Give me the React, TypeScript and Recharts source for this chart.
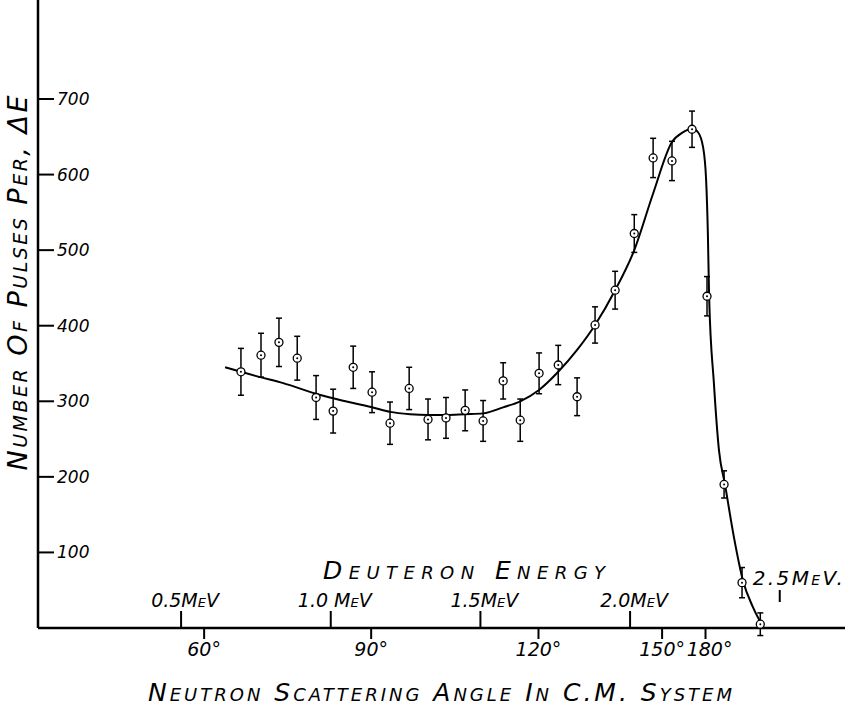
import React from "react";
import { ComposedChart, Line, Scatter, ErrorBar, XAxis, YAxis, Label } from "recharts";

// deuteron energy (MeV) of each measured point, counts and error
const pointEnergy = [
  0.7, 0.767, 0.827, 0.888, 0.951, 1.008, 1.075, 1.138, 1.198, 1.262, 1.325, 1.385, 1.449, 1.509, 1.576,
  1.633, 1.696, 1.76, 1.823, 1.883, 1.95, 2.014, 2.077, 2.14, 2.207, 2.257, 2.314, 2.374, 2.435,
];
const pointCounts = [
  339, 361, 378, 357, 305, 287, 345, 312, 271, 317, 276, 278, 288, 274, 327, 275, 337, 348, 306, 401, 447,
  522, 622, 618, 660, 439, 190, 60, 5,
];
const pointError = [
  31, 29, 32, 29, 29, 29, 28, 27, 28, 28, 27, 27, 27, 27, 24, 28, 27, 26, 25, 24, 25, 25, 26, 26, 24, 26,
  18, 20, 15,
];

// hand drawn fitted curve
const curveEnergy = [
  0.647, 0.7, 0.764, 0.841, 0.951, 1.008, 1.138, 1.198, 1.265, 1.325, 1.385, 1.449, 1.509, 1.576, 1.633,
  1.696, 1.76, 1.823, 1.883, 1.95, 2.014, 2.077, 2.14, 2.177, 2.207, 2.227, 2.244, 2.254, 2.26, 2.264, 2.28,
  2.297, 2.317, 2.347, 2.377, 2.41, 2.447,
];
const curveCounts = [
  345, 339, 332, 324, 310, 304, 292, 286, 283, 282, 282, 283, 284, 292, 300, 315, 339, 368, 401, 447, 500,
  575, 643, 656, 661, 656, 636, 593, 520, 439, 324, 235, 190, 120, 63, 28, 0,
];

const energyTicks = [0.5, 1.0, 1.5, 2.0, 2.5];
const energyLabels = ["0.5MeV", "1.0 MeV", "1.5MeV", "2.0MeV", "2.5MeV."];
const angleTicks = [0.577, 1.135, 1.694, 2.107, 2.252];
const angleLabels = ["60°", "90°", "120°", "150°", "180°"];
const countTicks = [100, 200, 300, 400, 500, 600, 700];

const points = pointEnergy.map((e, i) => ({ e, n: pointCounts[i], err: pointError[i] }));
const curve = curveEnergy.map((e, i) => ({ e, n: curveCounts[i] }));

const font = "'DejaVu Sans', sans-serif";
const textStyle = { fontFamily: font, fontStyle: "italic", fill: "#000" } as const;
const capsStyle = { ...textStyle, fontVariant: "small-caps" } as const;

function XTick({ x, y, payload }: any) {
  const ei = energyTicks.indexOf(payload.value);
  if (ei === energyTicks.length - 1) {
    return (
      <g>
        <line x1={x} y1={y - 38} x2={x} y2={y - 26} stroke="#000" strokeWidth={2} />
        <text x={x - 27} y={y - 43} fontSize={20} textLength={90} lengthAdjust="spacing" style={capsStyle}>
          {energyLabels[ei]}
        </text>
      </g>
    );
  }
  if (ei >= 0) {
    return (
      <g>
        <line x1={x} y1={y - 17} x2={x} y2={y} stroke="#000" strokeWidth={2} />
        <text x={x + 4} y={y - 21} fontSize={19} textAnchor="middle" style={capsStyle}>
          {energyLabels[ei]}
        </text>
      </g>
    );
  }
  const ai = angleTicks.indexOf(payload.value);
  return (
    <g>
      <line x1={x} y1={y} x2={x} y2={y + 11} stroke="#000" strokeWidth={2} />
      <text x={x + (ai === angleTicks.length - 1 ? 4 : 0)} y={y + 28} fontSize={19} textAnchor="middle" style={textStyle}>
        {angleLabels[ai]}
      </text>
    </g>
  );
}

function YTick({ x, y, payload }: any) {
  return (
    <g>
      <line x1={x} y1={y} x2={x + 16} y2={y} stroke="#000" strokeWidth={2} />
      <text x={x + 19} y={y + 6} fontSize={17} style={textStyle}>
        {payload.value}
      </text>
    </g>
  );
}

function PointShape({ cx, cy }: any) {
  return (
    <g>
      <circle cx={cx} cy={cy} r={4} fill="#fff" stroke="#000" strokeWidth={1.3} />
      <circle cx={cx} cy={cy} r={1} fill="#000" />
    </g>
  );
}

function XTitles({ viewBox }: any) {
  const y = viewBox ? viewBox.y : 628;
  return (
    <g>
      <text x={323} y={y - 49} fontSize={25} textLength={282} lengthAdjust="spacing" style={capsStyle}>
        Deuteron Energy
      </text>
      <text x={148} y={y + 73} fontSize={25} textLength={584} lengthAdjust="spacing" style={capsStyle}>
        Neutron Scattering Angle In C.M. System
      </text>
    </g>
  );
}

function YTitle() {
  const cx = 27;
  const cy = 283;
  return (
    <text
      x={cx}
      y={cy}
      fontSize={27}
      textAnchor="middle"
      textLength={375}
      lengthAdjust="spacing"
      transform={`rotate(-90 ${cx} ${cy})`}
      style={capsStyle}
    >
      Number Of Pulses Per, ΔE
    </text>
  );
}

export default function App() {
  return (
    <div style={{ position: "absolute", left: 0, top: 0, background: "#fff" }}>
      <ComposedChart width={845} height={707} margin={{ top: 0, right: 0, left: 37, bottom: 78 }}>
        <XAxis
          type="number"
          dataKey="e"
          domain={[0.022, 2.718]}
          ticks={[...energyTicks, ...angleTicks]}
          interval={0}
          allowDataOverflow
          height={1}
          tickSize={0}
          tickMargin={0}
          tick={<XTick />}
          axisLine={{ stroke: "#000", strokeWidth: 2.5 }}
        >
          <Label content={<XTitles />} />
        </XAxis>
        <YAxis
          type="number"
          dataKey="n"
          domain={[0, 831]}
          ticks={countTicks}
          interval={0}
          allowDataOverflow
          width={1}
          tickSize={0}
          tickMargin={0}
          tick={<YTick />}
          axisLine={{ stroke: "#000", strokeWidth: 2.5 }}
        >
          <Label content={<YTitle />} />
        </YAxis>
        <Line
          data={curve}
          dataKey="n"
          type="monotone"
          stroke="#000"
          strokeWidth={2}
          dot={false}
          activeDot={false}
          isAnimationActive={false}
        />
        <Scatter data={points} dataKey="n" shape={<PointShape />} isAnimationActive={false}>
          <ErrorBar dataKey="err" direction="y" width={3} stroke="#000" strokeWidth={1.5} />
        </Scatter>
      </ComposedChart>
    </div>
  );
}
